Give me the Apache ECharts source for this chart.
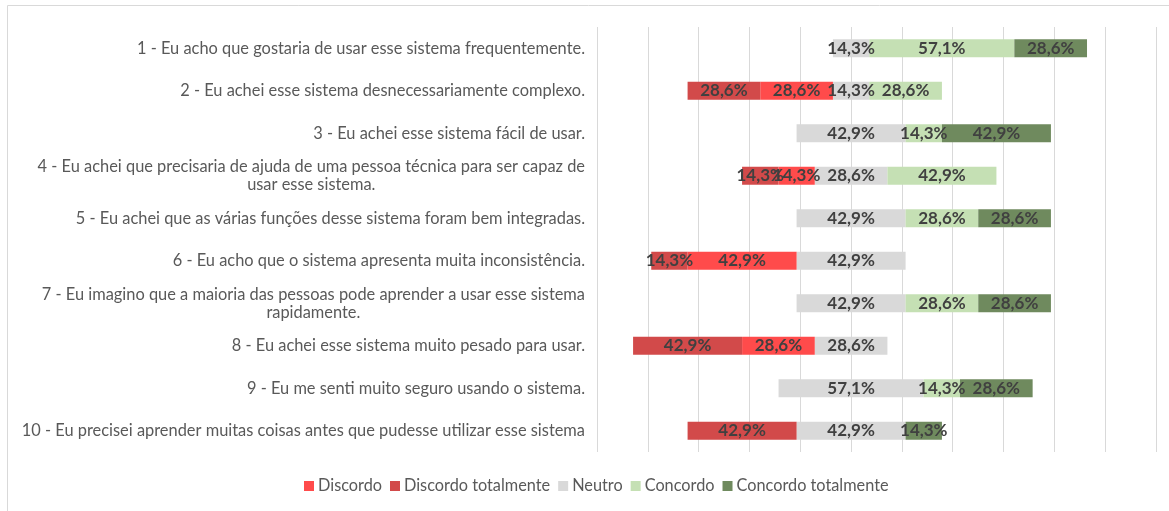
<!DOCTYPE html>
<html>
<head>
<meta charset="utf-8">
<script src="https://cdn.jsdelivr.net/npm/echarts@6/dist/echarts.min.js"></script>
<style>
  html, body { margin: 0; padding: 0; background: #fff; }
  #chart { width: 1169px; height: 511px; }
</style>
</head>
<body>
<div id="chart"></div>
<script>
    // perguntas do questionario SUS (linha 2 = quebra centralizada)
    var perguntas = [
        ['1 - Eu acho que gostaria de usar esse sistema frequentemente.'],
        ['2 - Eu achei esse sistema desnecessariamente complexo.'],
        ['3 - Eu achei esse sistema fácil de usar.'],
        ['4 - Eu achei que precisaria de ajuda de uma pessoa técnica para ser capaz de', 'usar esse sistema.'],
        ['5 - Eu achei que as várias funções desse sistema foram bem integradas.'],
        ['6 - Eu acho que o sistema apresenta muita inconsistência.'],
        ['7 - Eu imagino que a maioria das pessoas pode aprender a usar esse sistema', 'rapidamente.'],
        ['8 - Eu achei esse sistema muito pesado para usar.'],
        ['9 - Eu me senti muito seguro usando o sistema.'],
        ['10 - Eu precisei aprender muitas coisas antes que pudesse utilizar esse sistema']
    ];
    var discordo           = [0, 28.6, 0, 14.3, 0, 42.9, 0, 28.6, 0, 0];
    var discordoTotalmente = [0, 28.6, 0, 14.3, 0, 14.3, 0, 42.9, 0, 42.9];
    var neutro             = [14.3, 14.3, 42.9, 28.6, 42.9, 42.9, 42.9, 28.6, 57.1, 42.9];
    var concordo           = [57.1, 28.6, 14.3, 42.9, 28.6, 0, 28.6, 0, 14.3, 0];
    var concordoTotalmente = [28.6, 0, 42.9, 0, 28.6, 0, 28.6, 0, 28.6, 14.3];

    var cores = {
        discordo: '#ff4b4b',
        discordoTot: '#d24a4a',
        neutro: '#d9d9d9',
        concordo: '#c5e0b4',
        concordoTot: '#6f8a5e'
    };

    function pct(v){
        v = Math.abs(v);
        return v ? v.toFixed(1).replace('.', ',') + '%' : '';
    }

    var labelStyle = {
        show: true,
        color: '#404040',
        fontFamily: 'Lato',
        fontWeight: 'bold',
        fontSize: 17,
        formatter: function(p){ return pct(p.value); }
    };

    var myChart = echarts.init(document.getElementById('chart'));
    var option = {
        animation: false,
        textStyle: { fontFamily: 'Lato' },
        graphic: [{
            type: 'rect',
            shape: { x: 7.5, y: 5.5, width: 1300, height: 600 },
            style: { fill: 'none', stroke: '#d9d9d9', lineWidth: 1 },
            silent: true
        }],
        legend: {
            data: ['Discordo', 'Discordo totalmente', 'Neutro', 'Concordo', 'Concordo totalmente'],
            bottom: 12,
            left: 299,
            itemWidth: 10,
            itemHeight: 10,
            itemGap: 8,
            icon: 'rect',
            textStyle: { color: '#595959', fontSize: 16.3, fontFamily: 'Lato', padding: [0, 0, 0, -1] }
        },
        grid: { left: 597, right: 13, top: 27, bottom: 59 },
        xAxis: {
            type: 'value',
            min: -100,
            max: 120,
            interval: 20,
            axisLabel: { show: false },
            axisLine: { show: false },
            axisTick: { show: false },
            splitLine: { lineStyle: { color: '#d9d9d9', width: 1 } }
        },
        yAxis: {
            type: 'category',
            inverse: true,
            data: perguntas.map(function(p){ return p.join('\n'); }),
            axisLine: { show: false, onZero: false },
            axisTick: { show: false },
            axisLabel: {
                margin: 12,
                color: '#595959',
                fontSize: 16.4,
                fontFamily: 'Lato',
                lineHeight: 18,
                formatter: function(v){
                    var linhas = v.split('\n');
                    if (linhas.length === 1) return linhas[0];
                    return '{a|' + linhas[0] + '}\n{b|' + linhas[1] + '}';
                },
                rich: {
                    a: { color: '#595959', fontSize: 16.4, fontFamily: 'Lato', lineHeight: 18 },
                    b: { color: '#595959', fontSize: 16.4, fontFamily: 'Lato', lineHeight: 18, align: 'center' }
                }
            }
        },
        series: [
            {
                name: 'Neutro', type: 'bar', stack: 'total', barWidth: 18,
                itemStyle: { color: cores.neutro },
                data: neutro.map(function(v){ return -v / 2; })
            },
            {
                name: 'Discordo', type: 'bar', stack: 'total',
                itemStyle: { color: cores.discordo },
                label: labelStyle,
                data: discordo.map(function(v){ return -v; })
            },
            {
                name: 'Discordo totalmente', type: 'bar', stack: 'total',
                itemStyle: { color: cores.discordoTot },
                label: labelStyle,
                data: discordoTotalmente.map(function(v){ return -v; })
            },
            {
                name: 'Neutro', type: 'bar', stack: 'total',
                itemStyle: { color: cores.neutro },
                label: {
                    show: true,
                    position: [0, '50%'],
                    align: 'center',
                    verticalAlign: 'middle',
                    color: '#404040',
                    fontFamily: 'Lato',
                    fontWeight: 'bold',
                    fontSize: 17,
                    formatter: function(p){ return pct(neutro[p.dataIndex]); }
                },
                data: neutro.map(function(v){ return v / 2; })
            },
            {
                name: 'Concordo', type: 'bar', stack: 'total',
                itemStyle: { color: cores.concordo },
                label: labelStyle,
                data: concordo
            },
            {
                name: 'Concordo totalmente', type: 'bar', stack: 'total',
                itemStyle: { color: cores.concordoTot },
                label: labelStyle,
                data: concordoTotalmente
            }
        ]
    };
    myChart.setOption(option);
</script>
</body>
</html>
